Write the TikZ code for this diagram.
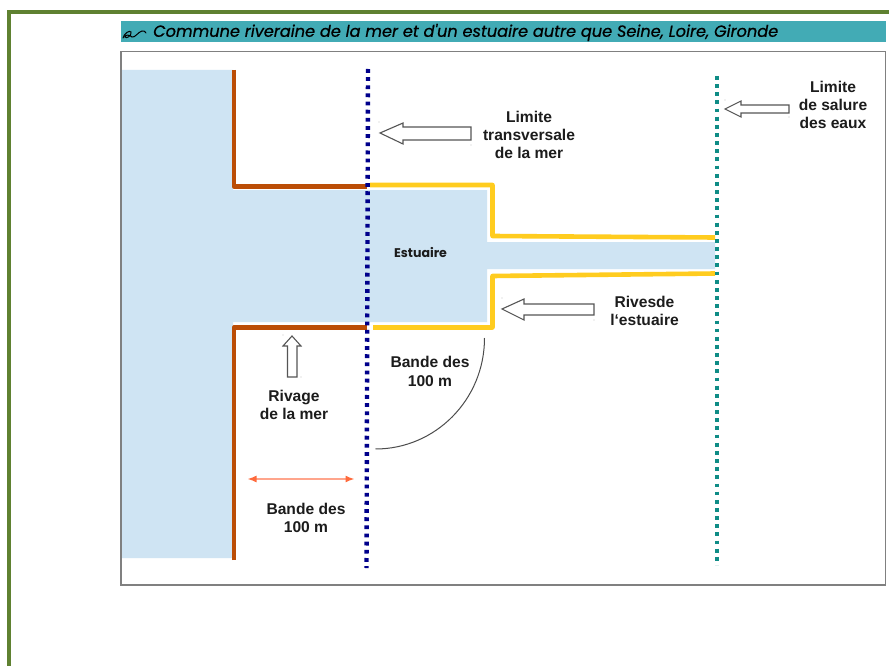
\documentclass[tikz,border=0pt]{standalone}
\usepackage{fontspec}
\setmainfont{Liberation Sans}
\newfontfamily\titlefont{Poppins}
\newfontfamily\titlemedium[FakeBold=0.7]{Poppins}
\usetikzlibrary{arrows.meta}
\definecolor{framegreen}{HTML}{5F8131}
\definecolor{barteal}{HTML}{42ABB5}
\definecolor{waterblue}{HTML}{CFE4F3}
\definecolor{shorebrown}{HTML}{BB4D06}
\definecolor{rivergold}{HTML}{FFCC1F}
\definecolor{limitnavy}{HTML}{00008B}
\definecolor{limitteal}{HTML}{0F8C86}
\definecolor{arrowline}{HTML}{555555}
\definecolor{inktext}{HTML}{1C1C1C}
\definecolor{spanline}{HTML}{FFA58C}
\definecolor{spantip}{HTML}{FF6A3C}
\tikzset{
  x=1pt,y=-1pt,
  label text/.style={font=\bfseries\fontsize{15.6}{18.3}\selectfont,align=center,text=inktext,inner sep=0pt},
  shore/.style={draw=shorebrown,line width=4.8pt,line join=round},
  riverbank/.style={draw=rivergold,line width=4.6pt,line join=round},
  limit/.style={line width=4.4pt,dash pattern=on 3.8pt off 4.35pt},
  block arrow/.style={draw=arrowline,fill=white,line width=1.1pt,line join=miter},
  speck/.style={fill=arrowline,inner sep=0pt,minimum size=.8pt,shape=circle}
}
\begin{document}
\begin{tikzpicture}
\useasboundingbox (0,0) rectangle (889,666);
\fill[white] (0,0) rectangle (889,666);
% outer border
\draw[framegreen,line width=4.4pt] (9,666) -- (9,12) -- (889,12);
% title bar
\fill[barteal] (121,21) rectangle (886,42);
\draw[black,line width=1pt,line cap=round] (123,38) .. controls (124,33) and (130,30) .. (131,32) .. controls (132,36) and (126,39) .. (125,37) .. controls (125,34) and (130,35) .. (132,37) .. controls (135,38) and (138,32) .. (142,31) .. controls (144,30) and (145,32) .. (146,33);
\node[anchor=west,inner sep=0pt,text=black,font=\titlemedium\itshape\fontsize{16.15}{16}\selectfont] (title) at (153,32.5) {Commune riveraine de la mer et d'un estuaire autre que Seine, Loire, Gironde};
% diagram frame
\draw[draw=black!50,line width=1.2pt,fill=white] (121,51.5) rectangle (885.5,585);
% water
\fill[waterblue] (122,70) -- (233,70) -- (233,190) -- (487,190) -- (487,242) -- (715,242) -- (715,269) -- (487,269) -- (487,322) -- (233,322) -- (233,558) -- (122,558) -- cycle;
% shores
\draw[shore] (234,70) -- (234,186.5) -- (367,186.5);
\draw[shore] (234,560) -- (234,327.5) -- (367,327.5);
% estuary banks
\draw[riverbank] (370,185) -- (492.5,185) -- (492.5,236) -- (715,237.5);
\draw[riverbank] (373,327.5) -- (492.5,327.5) -- (492.5,276) -- (715,273.5);
% limits
\draw[limit,limitnavy] (368,69) -- (366.5,568);
\draw[limit,limitteal] (717,76) -- (717,565);
% block arrows
\draw[block arrow] (380,133) -- (403,123) -- (403,127) -- (471,127) -- (471,140) -- (403,140) -- (403,144) -- cycle;
\draw[block arrow] (502,309) -- (524,299) -- (524,304) -- (594,304) -- (594,315) -- (524,315) -- (524,320) -- cycle;
\draw[block arrow] (725,109) -- (741,101) -- (741,105) -- (789,105) -- (789,113) -- (741,113) -- (741,117) -- cycle;
\draw[block arrow] (292,336) -- (301,346) -- (297,346) -- (297,377) -- (287.5,377) -- (287.5,346) -- (283,346) -- cycle;
% specks
\node[speck] at (379,122) {};
\node[speck] at (471,145) {};
\node[speck] at (502,298) {};
\node[speck] at (594,320) {};
\node[speck] at (725,100) {};
\node[speck] at (789,117) {};
\node[speck] at (283,335) {};
\node[speck] at (301,377) {};
% orange span
\coordinate (spanL) at (247.5,479);
\coordinate (spanR) at (354.5,479);
\draw[draw=spanline,line width=1.5pt,{Latex[length=9pt,width=7pt,color=spantip]}-{Latex[length=9pt,width=7pt,color=spantip]}] (spanL) -- (spanR);
% arc
\draw[draw=black!70,line width=1pt] (484.5,338) .. controls (484.5,400) and (435,449) .. (375.5,449);
% labels
\node[label text] (lmer) at (529,135) {Limite\\transversale\\de la mer};
\node[label text] (lsal) at (833,105) {Limite\\de salure\\des eaux};
\node[label text] (rives) at (644.5,311) {Rivesde\\l‘estuaire};
\node[label text] (b1) at (430,371.5) {Bande des\\100 m};
\node[label text] (riv) at (294,405) {Rivage\\de la mer};
\node[label text] (b2) at (306,518) {Bande des\\100 m};
\node[inner sep=0pt,text=inktext,font=\titlefont\fontsize{12.6}{14}\selectfont\bfseries] (est) at (420.5,253) {Estuaire};
\end{tikzpicture}
\end{document}
